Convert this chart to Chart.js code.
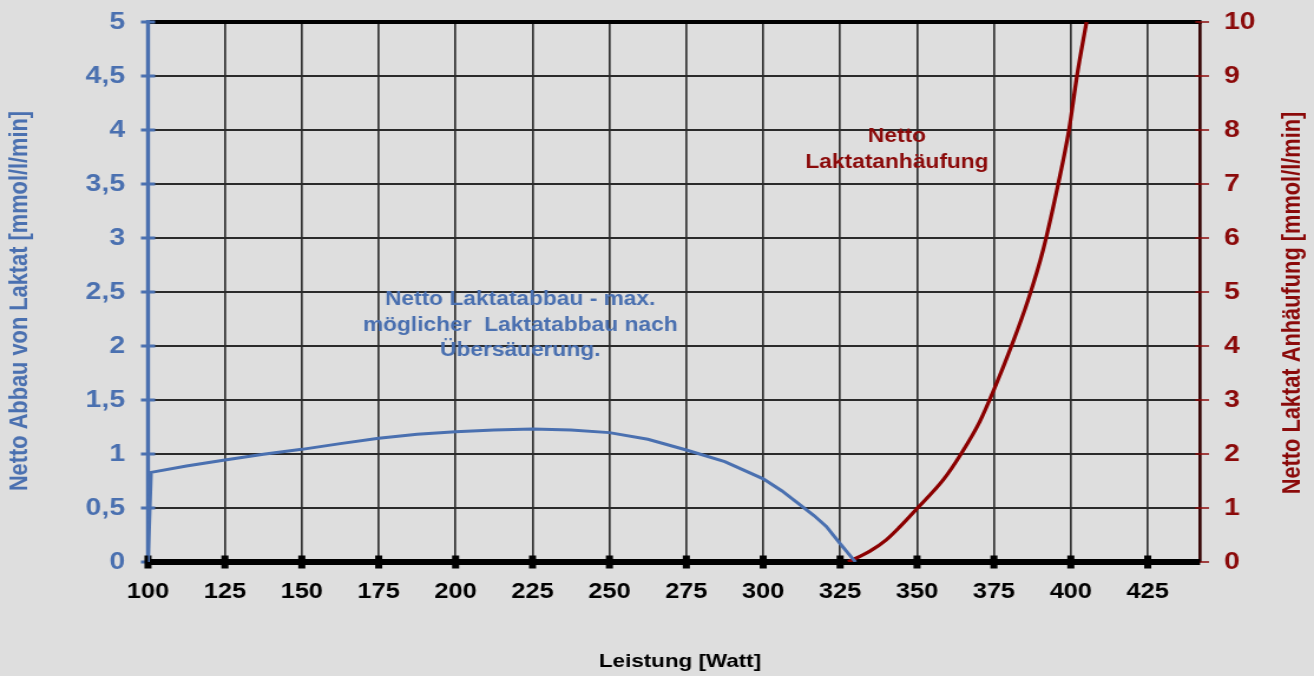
<!DOCTYPE html>
<html>
<head>
<meta charset="utf-8">
<title>Laktatabbau und Laktatanhäufung</title>
<script src="https://cdn.jsdelivr.net/npm/chart.js@4/dist/chart.umd.min.js"></script>
<style>
  html, body { margin: 0; padding: 0; background: #dedede; overflow: hidden; }
  #c { display: block; }
</style>
</head>
<body>
<!-- drawn on a narrower canvas and shown horizontally widened -->
<canvas id="c" width="1114" height="676" style="width:1314px;height:676px"></canvas>
<script>
// Achsenteilung
const leistungTicks = [100, 125, 150, 175, 200, 225, 250, 275, 300, 325, 350, 375, 400, 425];
const abbauTicks = [0, 0.5, 1, 1.5, 2, 2.5, 3, 3.5, 4, 4.5, 5];
const anhaeufungTicks = [0, 1, 2, 3, 4, 5, 6, 7, 8, 9, 10];

// Netto Laktatabbau [mmol/l/min] über Leistung [Watt]
const abbauWatt = [100, 101, 112.5, 125, 137.5, 150, 162.5, 175, 187.5, 200, 212.5, 225, 237.5, 250, 262.5, 275, 287.5, 300, 306, 312, 316.5, 320.5, 325, 330];
const abbauWert = [0, 0.83, 0.889, 0.944, 0.997, 1.043, 1.096, 1.145, 1.182, 1.207, 1.222, 1.231, 1.222, 1.198, 1.136, 1.037, 0.93, 0.77, 0.66, 0.53, 0.43, 0.33, 0.17, 0];

// Netto Laktatanhäufung [mmol/l/min] über Leistung [Watt]
const anhaeufungWatt = [327.6, 334.7, 340, 344.4, 350, 358.5, 364.4, 370.4, 375, 380.7, 386.1, 391, 395.9, 399.4, 402, 405.1];
const anhaeufungWert = [0, 0.2, 0.41, 0.65, 0.99, 1.52, 2.01, 2.6, 3.19, 4.0, 4.85, 5.78, 7.0, 8.0, 9.0, 10.0];

const BLUE = '#4a70b0';
const RED = '#8b0a0a';
const FONT = "'Liberation Sans', Arial, sans-serif";

// horizontal widening of the displayed canvas
const canvas = document.getElementById('c');
const S = parseFloat(canvas.style.width) / canvas.width;
const PLOT_LEFT = 148 / S;
const PLOT_RIGHT = 1200 / S;

const zip = (xs, ys) => xs.map((x, i) => ({ x, y: ys[i] }));
const fmt = v => String(v).replace('.', ',');

function strich(ctx, x1, y1, x2, y2, color, width) {
  ctx.beginPath();
  ctx.moveTo(x1, y1);
  ctx.lineTo(x2, y2);
  ctx.strokeStyle = color;
  ctx.lineWidth = width;
  ctx.stroke();
}

const hintergrund = {
  id: 'hintergrund',
  beforeDraw(chart) {
    const ctx = chart.ctx;
    ctx.save();
    ctx.fillStyle = '#dedede';
    ctx.fillRect(0, 0, chart.width, chart.height);
    ctx.restore();
  }
};

// Rahmen, Achslinien und Teilstriche
const rahmen = {
  id: 'rahmen',
  beforeDatasetsDraw(chart) {
    const { ctx, chartArea: a, scales: { x, y, y2 } } = chart;
    const y0 = y.getPixelForValue(0);
    ctx.save();
    strich(ctx, a.left, a.top, a.right + 1.2, a.top, '#000', 4);
    strich(ctx, a.right, a.top, a.right, y0, '#330000', 2.6);
    y2.ticks.forEach(t => {
      const p = y2.getPixelForValue(t.value);
      strich(ctx, a.right - 4, p, a.right + 7.6, p, RED, 1.5);
    });
    strich(ctx, a.left, a.top - 2, a.left, y0, BLUE, 3.4);
    y.ticks.forEach(t => {
      const p = y.getPixelForValue(t.value);
      strich(ctx, a.left - 6, p, a.left + 6, p, BLUE, 3);
    });
    strich(ctx, a.left - 2.5, y0, a.right, y0, '#000', 6);
    ctx.fillStyle = '#000';
    x.ticks.forEach(t => {
      const p = x.getPixelForValue(t.value);
      ctx.fillRect(p - 3, y0 - 6.5, 6, 13);
    });
    ctx.restore();
  }
};

// Textfelder im Diagramm und Achsentitel
const texte = {
  id: 'texte',
  afterDatasetsDraw(chart, args, opts) {
    const { ctx, scales: { x, y } } = chart;
    ctx.save();
    ctx.textAlign = 'center';
    ctx.textBaseline = 'middle';
    opts.felder.forEach(f => {
      ctx.font = `bold ${f.size}px ${FONT}`;
      ctx.fillStyle = f.color;
      const cx = x.getPixelForValue(f.x);
      const cy = y.getPixelForValue(f.y);
      f.lines.forEach((s, i) => ctx.fillText(s, cx, cy + i * f.lineHeight));
    });
    ctx.restore();
  },
  afterDraw(chart, args, opts) {
    const ctx = chart.ctx;
    ctx.save();
    ctx.textAlign = 'center';
    ctx.textBaseline = 'middle';
    opts.titel.forEach(t => {
      ctx.save();
      ctx.translate(t.x / S, t.y);
      ctx.rotate(t.rot);
      ctx.font = `bold ${t.size}px ${FONT}`;
      ctx.fillStyle = t.color;
      ctx.fillText(t.text, 0, 0);
      ctx.restore();
    });
    ctx.restore();
  }
};

new Chart(canvas, {
  type: 'line',
  data: {
    datasets: [
      {
        label: 'Netto Laktatabbau',
        data: zip(abbauWatt, abbauWert),
        yAxisID: 'y',
        borderColor: BLUE,
        borderWidth: 3,
        pointRadius: 0,
        tension: 0,
        fill: false
      },
      {
        label: 'Netto Laktatanhäufung',
        data: zip(anhaeufungWatt, anhaeufungWert),
        yAxisID: 'y2',
        borderColor: '#8b0000',
        borderWidth: 3.3,
        pointRadius: 0,
        cubicInterpolationMode: 'monotone',
        fill: false
      }
    ]
  },
  options: {
    responsive: false,
    animation: false,
    events: [],
    layout: { padding: { top: 22, left: 0, right: 0, bottom: 0 } },
    plugins: {
      legend: { display: false },
      tooltip: { enabled: false },
      texte: {
        felder: [
          { x: 221, y: 2.426, size: 19.3, lineHeight: 25.5, color: BLUE,
            lines: ['Netto Laktatabbau - max.', 'möglicher  Laktatabbau nach', 'Übersäuerung.'] },
          { x: 343.5, y: 3.935, size: 19.3, lineHeight: 26, color: RED,
            lines: ['Netto', 'Laktatanhäufung'] }
        ],
        titel: [
          { text: 'Netto Abbau von Laktat [mmol/l/min]', x: 20, y: 301, rot: -Math.PI / 2, size: 21.8, color: BLUE },
          { text: 'Netto Laktat Anhäufung [mmol/l/min]', x: 1293, y: 303, rot: -Math.PI / 2, size: 21.8, color: RED },
          { text: 'Leistung [Watt]', x: 680, y: 662, rot: 0, size: 19, color: '#000' }
        ]
      }
    },
    scales: {
      x: {
        type: 'linear',
        position: 'bottom',
        min: 100,
        max: 442,
        afterBuildTicks: s => { s.ticks = leistungTicks.map(v => ({ value: v })); },
        afterFit: s => { s.height = 114; s.paddingLeft = 0; s.paddingRight = 0; },
        grid: { color: '#333333', lineWidth: 1.7, drawTicks: false },
        border: { display: false },
        ticks: {
          padding: 17,
          color: '#000',
          font: { family: FONT, size: 21.5, weight: 'bold' },
          maxRotation: 0,
          autoSkip: false,
          callback: v => String(v)
        }
      },
      y: {
        type: 'linear',
        position: 'left',
        min: 0,
        max: 5,
        afterBuildTicks: s => { s.ticks = abbauTicks.map(v => ({ value: v })); },
        afterFit: s => { s.width = PLOT_LEFT; s.paddingTop = 0; s.paddingBottom = 0; },
        grid: { color: '#2a2a2a', lineWidth: 2, drawTicks: false },
        border: { display: false },
        ticks: {
          padding: 19.5,
          color: BLUE,
          font: { family: FONT, size: 24, weight: 'bold' },
          callback: v => fmt(v)
        }
      },
      y2: {
        type: 'linear',
        position: 'right',
        min: 0,
        max: 10,
        afterBuildTicks: s => { s.ticks = anhaeufungTicks.map(v => ({ value: v })); },
        afterFit: s => { s.width = canvas.width - PLOT_RIGHT; s.paddingTop = 0; s.paddingBottom = 0; },
        grid: { drawOnChartArea: false, drawTicks: false },
        border: { display: false },
        ticks: {
          padding: 20.3,
          color: RED,
          font: { family: FONT, size: 24, weight: 'bold' },
          callback: v => String(v)
        }
      }
    }
  },
  plugins: [hintergrund, rahmen, texte]
});
</script>
</body>
</html>
